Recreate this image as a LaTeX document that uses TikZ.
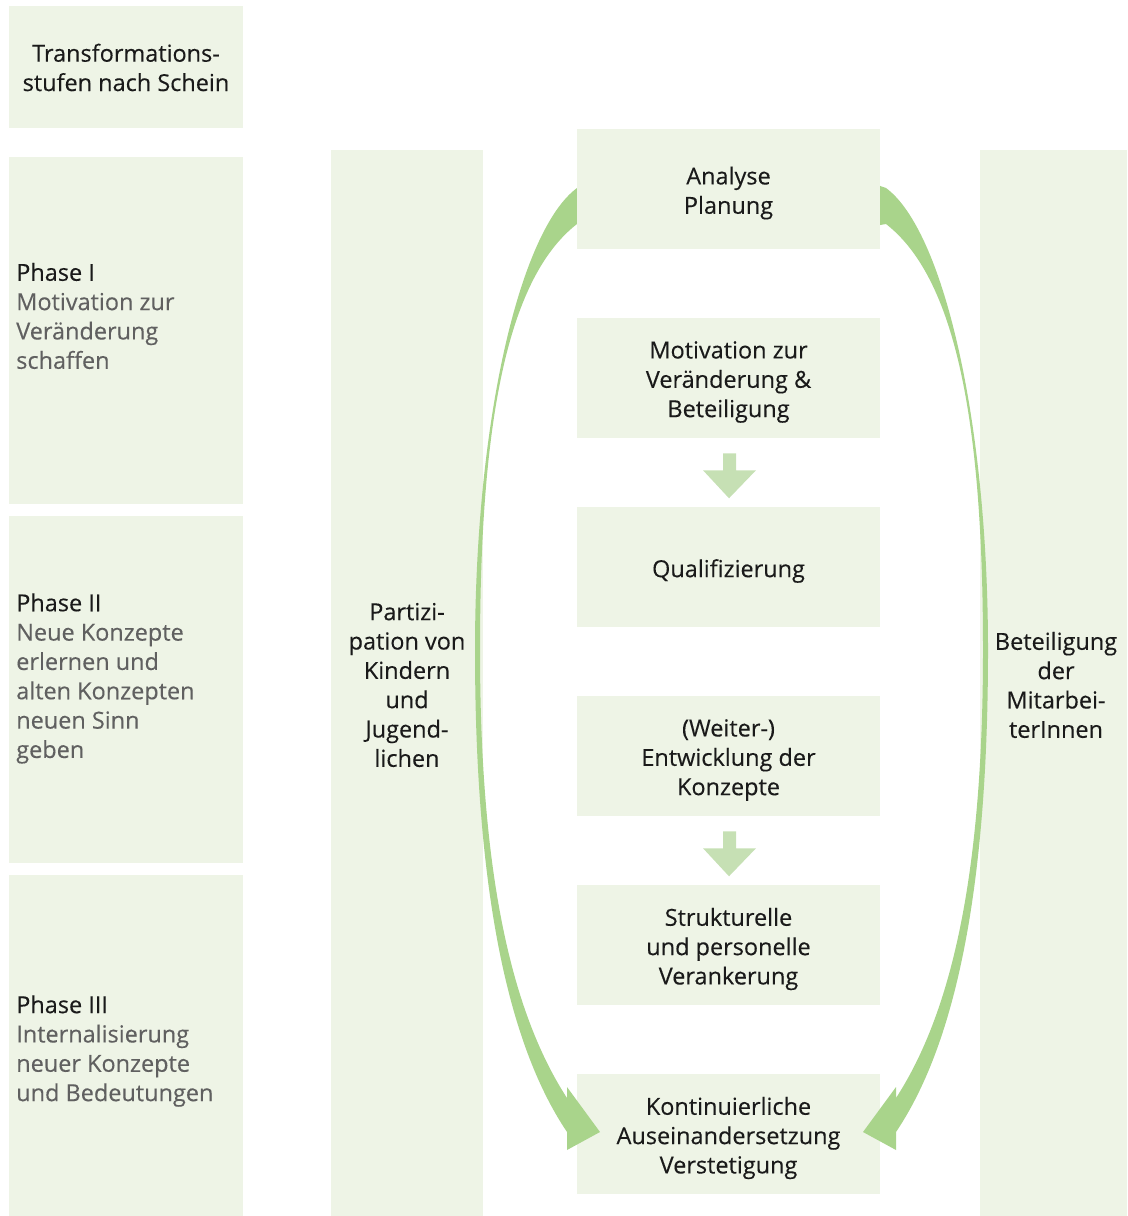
\documentclass[tikz,border=0pt]{standalone}
\usepackage{fontspec}
\setmainfont{Open Sans}[FakeBold=0.25]
\usetikzlibrary{calc}
\definecolor{boxfill}{HTML}{EEF4E6}
\definecolor{bigarrow}{HTML}{A9D48B}
\definecolor{smallarrow}{HTML}{C6E0B4}
\definecolor{txtdark}{HTML}{1A1A1A}
\definecolor{txtgray}{HTML}{606060}
\begin{document}
\begin{tikzpicture}[x=0.75pt,y=-0.75pt,
  every node/.style={font=\fontsize{17.6}{22}\selectfont, text=txtdark},
  box/.style={fill=boxfill, draw=none, inner sep=0pt, align=center},
  phasetext/.style={anchor=west, align=left, inner sep=0pt},
  cbox/.style={box, minimum width=227.25pt, minimum height=90pt},
  bigarr/.style={fill=bigarrow, draw=none},
  smallarr/.style={fill=smallarrow, draw=none}]
\useasboundingbox (0,0) rectangle (1127,1216);
% left column
\node[box, minimum width=175.5pt, minimum height=91.5pt] (head) at (126,67.5) {Transformations-\\stufen nach Schein};
\node[box, minimum width=175.5pt, minimum height=260.25pt] (p1) at (126,330.5) {};
\node[box, minimum width=175.5pt, minimum height=260.25pt] (p2) at (126,689.5) {};
\node[box, minimum width=175.5pt, minimum height=255.75pt] (p3) at (126,1045.5) {};
\node[phasetext] (t1) at (16,316) {Phase I\\\textcolor{txtgray}{Motivation zur}\\\textcolor{txtgray}{Veränderung}\\\textcolor{txtgray}{schaffen}};
\node[phasetext] (t2) at (16,678.5) {Phase II\\\textcolor{txtgray}{Neue Konzepte}\\\textcolor{txtgray}{erlernen und}\\\textcolor{txtgray}{alten Konzepten}\\\textcolor{txtgray}{neuen Sinn}\\\textcolor{txtgray}{geben}};
\node[phasetext] (t3) at (16,1051) {Phase III\\\textcolor{txtgray}{Internalisierung}\\\textcolor{txtgray}{neuer Konzepte}\\\textcolor{txtgray}{und Bedeutungen}};
% side columns
\node[box, minimum width=114pt, minimum height=799.5pt] (part) at (407,683) {};
\node[anchor=center, align=center, inner sep=0pt] (partt) at (407,685) {Partizi-\\pation von\\Kindern\\und\\Jugend-\\lichen};
\node[box, minimum width=110.25pt, minimum height=799.5pt] (mit) at (1053.5,683) {};
\node[anchor=center, align=center, inner sep=0pt] (mitt) at (1056,685) {Beteiligung\\der\\Mitarbei-\\terInnen};
% centre boxes
\node[cbox] (mot) at (728.5,378) {};
\node[align=center, inner sep=0pt] (mott) at ($(mot.center)+(0,4)$) {Motivation zur\\Veränderung \&\\Beteiligung};
\node[cbox] (qual) at (728.5,567) {};
\node[align=center, inner sep=0pt] (qualt) at ($(qual.center)+(0,4)$) {Qualifizierung};
\node[cbox] (weit) at (728.5,756) {};
\node[align=center, inner sep=0pt] (weitt) at ($(weit.center)+(0,4)$) {(Weiter-)\\Entwicklung der\\Konzepte};
\node[cbox] (str) at (728.5,945) {};
\node[align=center, inner sep=0pt] (strt) at ($(str.center)+(0,4)$) {Strukturelle\\und personelle\\Verankerung};
\node[cbox] (kon) at (728.5,1134) {};
\node[align=center, inner sep=0pt] (kont) at ($(kon.center)+(0,4)$) {Kontinuierliche\\Auseinandersetzung\\Verstetigung};
% small arrows
\foreach \a in {mot,weit}{
  \fill[smallarr] ($(\a.south)+(-5.5,15)$) -- ($(\a.south)+(7.5,15)$) -- ($(\a.south)+(7.5,32)$)
    -- ($(\a.south)+(27.5,32)$) -- ($(\a.south)+(0.5,60)$) -- ($(\a.south)+(-25.5,32)$)
    -- ($(\a.south)+(-5.5,32)$) -- cycle;
}
% big curved arrows
\def\bigpath{(600,180) -- (577,188) .. controls (520,230) and (475,420) .. (475,650)
  .. controls (475,880) and (505,1040) .. (567,1132)
  -- (567,1150) -- (600,1132) -- (567,1087) -- (567,1098)
  .. controls (510,1010) and (480,870) .. (480,650)
  .. controls (480,430) and (505,280) .. (577,224) -- (600,228) -- cycle}
\fill[bigarr] \bigpath;
\begin{scope}[shift={(1463,0)}, xscale=-1]
\fill[bigarr] \bigpath;
\end{scope}
\node[cbox] (ana) at (728.5,189) {};
\node[align=center, inner sep=0pt] (anat) at ($(ana.center)+(0,4)$) {Analyse\\Planung};
\end{tikzpicture}
\end{document}
